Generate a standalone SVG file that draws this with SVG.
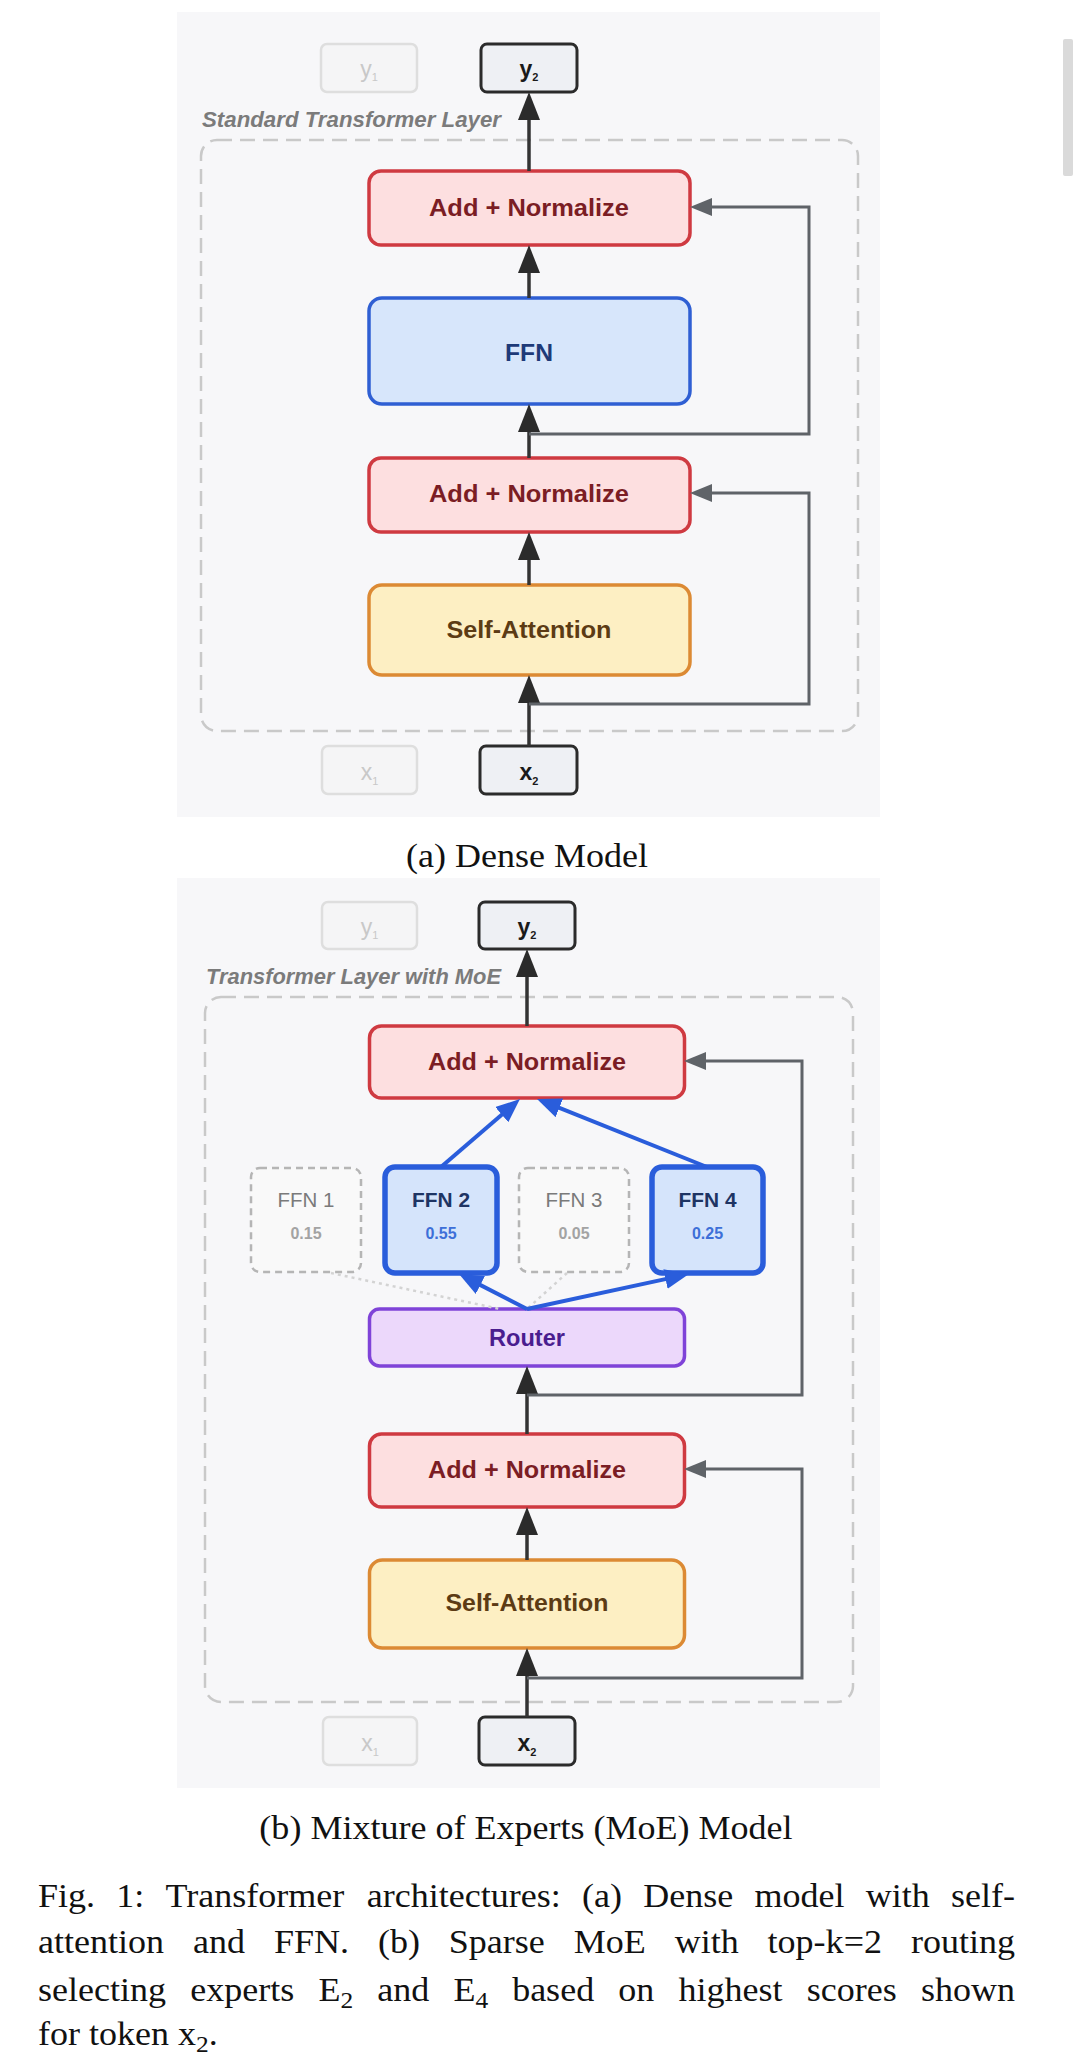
<svg xmlns="http://www.w3.org/2000/svg" width="1080" height="2071" viewBox="0 0 1080 2071">
<defs>
<style>
.bg{fill:#f7f7f9}
.frame{fill:none;stroke:#c9c9c9;stroke-width:2.5;stroke-dasharray:15 8}
.an{fill:#fddfe0;stroke:#cf3a41;stroke-width:3.5}
.ffn{fill:#d7e6fb;stroke:#2f5fd3;stroke-width:3.5}
.sa{fill:#fdefc3;stroke:#dc8a34;stroke-width:3.5}
.rt{fill:#ecd8fb;stroke:#7f43d8;stroke-width:3.5}
.exon{fill:#d5e4fb;stroke:#2a5ddb;stroke-width:5.5}
.exoff{fill:#f9f9f9;stroke:#b5b5b5;stroke-width:2.5;stroke-dasharray:7 5}
.tokon{fill:#eef0f4;stroke:#2b2b2b;stroke-width:3}
.tokoff{fill:#f5f5f6;stroke:#dedede;stroke-width:2.5}
.t{font-family:"Liberation Sans",Arial,sans-serif;font-weight:bold;text-anchor:middle}
.ttl{font-family:"Liberation Sans",Arial,sans-serif;font-weight:bold;font-style:italic;font-size:22px;fill:#7b7b7b}
.cap{font-family:"Liberation Serif","Times New Roman",serif;font-size:34px;fill:#111}
.main{fill:none;stroke:#333;stroke-width:3.5}
.res{fill:none;stroke:#5f6368;stroke-width:3}
.blue{fill:none;stroke:#2a5ddb;stroke-width:4}
.dot{fill:none;stroke:#d3d3d3;stroke-width:2.5;stroke-dasharray:3 4}
</style>
<marker id="ah" markerUnits="userSpaceOnUse" markerWidth="28" markerHeight="22" refX="18" refY="11" orient="auto" viewBox="0 0 28 22"><path d="M0,0 L28,11 L0,22 z" fill="#2b2b2b"/></marker>
<marker id="ahr" markerUnits="userSpaceOnUse" markerWidth="22" markerHeight="18" refX="12" refY="9" orient="auto" viewBox="0 0 22 18"><path d="M0,0 L22,9 L0,18 z" fill="#5f6368"/></marker>
<marker id="ahb" markerUnits="userSpaceOnUse" markerWidth="24" markerHeight="20" refX="14" refY="10" orient="auto" viewBox="0 0 24 20"><path d="M0,0 L24,10 L0,20 z" fill="#2a5ddb"/></marker>
</defs>
<rect width="1080" height="2071" fill="#ffffff"/>
<rect x="1063" y="39" width="10" height="137" rx="2" fill="#dadada"/>

<!-- Panel (a) -->
<g id="panel-a">
<rect class="bg" x="177" y="12" width="703" height="805"/>
<rect class="frame" x="201" y="140" width="657" height="591" rx="16"/>
<text class="ttl" x="202" y="127" textLength="299" lengthAdjust="spacingAndGlyphs">Standard Transformer Layer</text>
</g>
<g id="a-y1"><rect class="tokoff" x="321" y="44" width="96" height="48" rx="6"/><text class="t" x="369" y="77" font-size="23" font-weight="normal" fill="#c8c8c8" style="font-weight:normal">y<tspan font-size="11" dy="4">1</tspan></text></g>
<g id="a-y2"><rect class="tokon" x="481" y="44" width="96" height="48" rx="6"/><text class="t" x="529" y="77" font-size="23" fill="#1a1a1a">y<tspan font-size="11" dy="4">2</tspan></text></g>
<g id="a-an1"><rect class="an" x="369" y="171" width="321" height="74" rx="12"/><text class="t" x="529" y="215.5" font-size="24" fill="#7b1d24" textLength="200" lengthAdjust="spacingAndGlyphs">Add + Normalize</text></g>
<g id="a-ffn"><rect class="ffn" x="369" y="298" width="321" height="106" rx="13"/><text class="t" x="529" y="360.5" font-size="24" fill="#1e3a78" textLength="48" lengthAdjust="spacingAndGlyphs">FFN</text></g>
<g id="a-an2"><rect class="an" x="369" y="458" width="321" height="74" rx="12"/><text class="t" x="529" y="502" font-size="24" fill="#7b1d24" textLength="200" lengthAdjust="spacingAndGlyphs">Add + Normalize</text></g>
<g id="a-sa"><rect class="sa" x="369" y="585" width="321" height="90" rx="13"/><text class="t" x="529" y="638" font-size="24" fill="#5c3b14" textLength="165" lengthAdjust="spacingAndGlyphs">Self-Attention</text></g>
<g id="a-x1"><rect class="tokoff" x="322" y="746" width="95" height="48" rx="6"/><text class="t" x="369.5" y="780" font-size="23" fill="#c8c8c8" style="font-weight:normal">x<tspan font-size="11" dy="5">1</tspan></text></g>
<g id="a-x2"><rect class="tokon" x="480" y="746" width="97" height="48" rx="6"/><text class="t" x="529" y="780" font-size="23" fill="#1a1a1a">x<tspan font-size="11" dy="5">2</tspan></text></g>

<!-- Panel (b) -->
<g id="panel-b">
<rect class="bg" x="177" y="878" width="703" height="910"/>
<rect class="frame" x="205" y="997" width="648" height="705" rx="16"/>
<text class="ttl" x="206" y="984" textLength="295" lengthAdjust="spacingAndGlyphs">Transformer Layer with MoE</text>
</g>
<g id="b-y1"><rect class="tokoff" x="322" y="902" width="95" height="47" rx="6"/><text class="t" x="369.5" y="935" font-size="23" fill="#c8c8c8" style="font-weight:normal">y<tspan font-size="11" dy="4">1</tspan></text></g>
<g id="b-y2"><rect class="tokon" x="479" y="902" width="96" height="47" rx="6"/><text class="t" x="527" y="935" font-size="23" fill="#1a1a1a">y<tspan font-size="11" dy="4">2</tspan></text></g>
<g id="b-an1"><rect class="an" x="369.5" y="1026" width="315" height="72" rx="12"/><text class="t" x="527" y="1069.5" font-size="24" fill="#7b1d24" textLength="198" lengthAdjust="spacingAndGlyphs">Add + Normalize</text></g>
<g id="b-ffn1"><rect class="exoff" x="251" y="1168" width="110" height="104" rx="9"/><text class="t" x="306" y="1207" font-size="20" fill="#7a7a7a" style="font-weight:normal" textLength="57" lengthAdjust="spacingAndGlyphs">FFN 1</text><text class="t" x="306" y="1239" font-size="16" fill="#a3a3a3">0.15</text></g>
<g id="b-ffn2"><rect class="exon" x="385" y="1167" width="112" height="106" rx="10"/><text class="t" x="441" y="1207" font-size="20" fill="#1e3463" textLength="58" lengthAdjust="spacingAndGlyphs">FFN 2</text><text class="t" x="441" y="1239" font-size="16" fill="#3d6fd8">0.55</text></g>
<g id="b-ffn3"><rect class="exoff" x="519" y="1168" width="110" height="104" rx="9"/><text class="t" x="574" y="1207" font-size="20" fill="#7a7a7a" style="font-weight:normal" textLength="57" lengthAdjust="spacingAndGlyphs">FFN 3</text><text class="t" x="574" y="1239" font-size="16" fill="#a3a3a3">0.05</text></g>
<g id="b-ffn4"><rect class="exon" x="652" y="1167" width="111" height="106" rx="10"/><text class="t" x="707.5" y="1207" font-size="20" fill="#1e3463" textLength="58" lengthAdjust="spacingAndGlyphs">FFN 4</text><text class="t" x="707.5" y="1239" font-size="16" fill="#3d6fd8">0.25</text></g>
<g id="b-router"><rect class="rt" x="369.5" y="1309" width="315" height="57" rx="10"/><text class="t" x="527" y="1345.5" font-size="24" fill="#4a1d8f" textLength="76" lengthAdjust="spacingAndGlyphs">Router</text></g>
<g id="b-an2"><rect class="an" x="369.5" y="1434" width="315" height="73" rx="12"/><text class="t" x="527" y="1478" font-size="24" fill="#7b1d24" textLength="198" lengthAdjust="spacingAndGlyphs">Add + Normalize</text></g>
<g id="b-sa"><rect class="sa" x="369.5" y="1560" width="315" height="88" rx="13"/><text class="t" x="527" y="1611" font-size="24" fill="#5c3b14" textLength="163" lengthAdjust="spacingAndGlyphs">Self-Attention</text></g>
<g id="b-x1"><rect class="tokoff" x="323" y="1717" width="94" height="48" rx="6"/><text class="t" x="370" y="1751" font-size="23" fill="#c8c8c8" style="font-weight:normal">x<tspan font-size="11" dy="5">1</tspan></text></g>
<g id="b-x2"><rect class="tokon" x="479" y="1717" width="96" height="48" rx="6"/><text class="t" x="527" y="1751" font-size="23" fill="#1a1a1a">x<tspan font-size="11" dy="5">2</tspan></text></g>

<!-- Connectors -->
<g id="connectors">
<path class="main" d="M529,746 V685" marker-end="url(#ah)"/>
<path class="main" d="M529,585 V542" marker-end="url(#ah)"/>
<path class="main" d="M529,458 V414" marker-end="url(#ah)"/>
<path class="main" d="M529,298 V255" marker-end="url(#ah)"/>
<path class="main" d="M529,171 V102" marker-end="url(#ah)"/>
<path class="res" d="M529,704 H809 V493 H700" marker-end="url(#ahr)"/>
<path class="res" d="M529,434 H809 V207 H700" marker-end="url(#ahr)"/>

<path class="main" d="M527,1717 V1658" marker-end="url(#ah)"/>
<path class="main" d="M527,1560 V1517" marker-end="url(#ah)"/>
<path class="main" d="M527,1434 V1376" marker-end="url(#ah)"/>
<path class="main" d="M527,1026 V959" marker-end="url(#ah)"/>
<path class="res" d="M527,1678 H802 V1469 H694" marker-end="url(#ahr)"/>
<path class="res" d="M527,1395 H802 V1061 H694" marker-end="url(#ahr)"/>
<path class="dot" d="M331,1273 L500,1309"/>
<path class="dot" d="M567,1273 L527,1309"/>
<path class="blue" d="M527,1309 L467.9,1278.6" marker-end="url(#ahb)"/>
<path class="blue" d="M527,1309 L679.2,1276.1" marker-end="url(#ahb)"/>
<path class="blue" d="M441,1167 L512.4,1105.5" marker-end="url(#ahb)"/>
<path class="blue" d="M707,1167 L546.3,1102.7" marker-end="url(#ahb)"/>
</g>

<!-- Captions -->
<g id="captions" transform="scale(1.06,1)">
<text class="cap" x="497.2" y="867" text-anchor="middle">(a) Dense Model</text>
<text class="cap" x="496.2" y="1839" text-anchor="middle">(b) Mixture of Experts (MoE) Model</text>
<text class="cap" y="1907"><tspan x="35.85">Fig.</tspan><tspan x="109.67">1:</tspan><tspan x="156.08">Transformer</tspan><tspan x="345.97">architectures:</tspan><tspan x="549.09">(a)</tspan><tspan x="606.79">Dense</tspan><tspan x="711.72">model</tspan><tspan x="816.68">with</tspan><tspan x="897.09">self-</tspan></text>
<text class="cap" y="1953"><tspan x="35.85">attention</tspan><tspan x="182.08">and</tspan><tspan x="258.41">FFN.</tspan><tspan x="356.5">(b)</tspan><tspan x="423.37">Sparse</tspan><tspan x="541.24">MoE</tspan><tspan x="636.47">with</tspan><tspan x="724.15">top-k=2</tspan><tspan x="859.33">routing</tspan></text>
<text class="cap" y="2001"><tspan x="35.85">selecting</tspan><tspan x="179.48">experts</tspan><tspan x="300.43">E</tspan><tspan font-size="24" dy="7">2</tspan><tspan x="355.86" dy="-7">and</tspan><tspan x="427.72">E</tspan><tspan font-size="24" dy="7">4</tspan><tspan x="483.15" dy="-7">based</tspan><tspan x="583.33">on</tspan><tspan x="640.09">highest</tspan><tspan x="761.08">scores</tspan><tspan x="868.81">shown</tspan></text>
<text class="cap" x="35.85" y="2045">for token x<tspan font-size="24" dy="7">2</tspan><tspan dy="-7">.</tspan></text>
</g>
</svg>
